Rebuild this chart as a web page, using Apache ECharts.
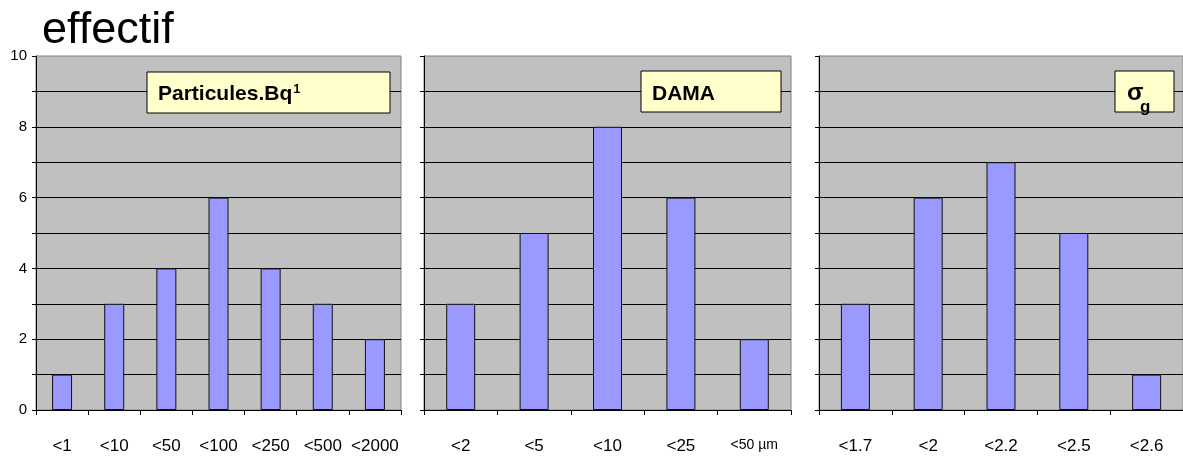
<!DOCTYPE html>
<html><head><meta charset="utf-8">
<script src="https://cdn.jsdelivr.net/npm/echarts@6/dist/echarts.min.js"></script>
<style>html,body{margin:0;padding:0;background:#fff}#c{width:1183px;height:457px}</style>
</head><body><div id="c"></div>
<script>
// ---- data ----
const cat1 = ['<1', '<10', '<50', '<100', '<250', '<500', '<2000'];
const val1 = [1, 3, 4, 6, 4, 3, 2];
const cat2 = ['<2', '<5', '<10', '<25', '<50 µm'];
const val2 = [3, 5, 8, 6, 2];
const cat3 = ['<1.7', '<2', '<2.2', '<2.5', '<2.6'];
const val3 = [3, 6, 7, 5, 1];
const yLabelTicks = [0, 2, 4, 6, 8, 10];
const titleText = 'effectif';
const box1Text = 'Particules.Bq';
const box1Sup = '1';
const box2Text = 'DAMA';
const box3Text = 'σ';
const box3Sub = 'g';

const FONT = 'Liberation Sans, Arial, Helvetica, sans-serif';
const chart = echarts.init(document.getElementById('c'), null, {renderer: 'canvas'});

const grids = [
  {left: 36, top: 56, width: 365, height: 354},
  {left: 424, top: 56, width: 367, height: 354},
  {left: 819, top: 56, width: 366, height: 354}
];

function xAxis(i, cats) {
  return {
    type: 'category', gridIndex: i, boundaryGap: true,
    data: cats.map(c => c.indexOf('µm') >= 0 ? {value: c, textStyle: {fontSize: 14}} : c),
    axisLine: {lineStyle: {color: '#000', width: 1}},
    axisTick: {show: true, length: 5, lineStyle: {color: '#000'}},
    axisLabel: {color: '#000', fontSize: 17, fontFamily: FONT, margin: 28, interval: 0},
    splitLine: {show: false}
  };
}
function yAxis(i, showLabels) {
  return {
    type: 'value', gridIndex: i, min: 0, max: 10, interval: 1,
    axisLine: {show: true, lineStyle: {color: '#000', width: 1}},
    axisTick: {show: true, length: 4, lineStyle: {color: '#000'}},
    axisLabel: {
      show: showLabels, color: '#000', fontSize: 15, fontFamily: FONT, margin: 9,
      formatter: v => yLabelTicks.indexOf(v) >= 0 ? String(v) : ''
    },
    splitLine: {show: true, showMaxLine: false, lineStyle: {color: '#000', width: 1}}
  };
}
function barSeries(i, vals, w) {
  return {
    type: 'bar', xAxisIndex: i, yAxisIndex: i, data: vals, barWidth: w,
    itemStyle: {color: '#9999FF', borderColor: '#111', borderWidth: 1},
    animation: false
  };
}

const option = {
  animation: false,
  textStyle: {fontFamily: FONT},
  grid: grids.map(g => Object.assign({show: true, backgroundColor: '#C0C0C0', borderColor: '#808080', borderWidth: 1}, g)),
  xAxis: [xAxis(0, cat1), xAxis(1, cat2), xAxis(2, cat3)],
  yAxis: [yAxis(0, true), yAxis(1, false), yAxis(2, false)],
  series: [barSeries(0, val1, 20), barSeries(1, val2, 29), barSeries(2, val3, 29)],
  graphic: [
    {type: 'text', left: 42, top: 8, z: 10,
     style: {text: titleText, font: '45px ' + FONT, fill: '#000'}},
    // box 1
    {type: 'rect', shape: {x: 147, y: 72, width: 243, height: 41}, z: 10,
     style: {fill: '#FFFFCC', stroke: '#000', lineWidth: 1}},
    {type: 'text', x: 158, y: 94, z: 11,
     style: {text: '{a|' + box1Text + '}{s|' + box1Sup + '}', verticalAlign: 'middle', fill: '#000',
       rich: {a: {fontSize: 21, fontWeight: 'bold', fontFamily: FONT, lineHeight: 22},
              s: {fontSize: 13, fontWeight: 'bold', fontFamily: FONT, verticalAlign: 'top', lineHeight: 13, padding: [0,0,9,1]}}}},
    // box 2
    {type: 'rect', shape: {x: 641, y: 71, width: 140, height: 41}, z: 10,
     style: {fill: '#FFFFCC', stroke: '#000', lineWidth: 1}},
    {type: 'text', x: 652, y: 94, z: 11,
     style: {text: box2Text, fontSize: 21, fontWeight: 'bold', fontFamily: FONT, verticalAlign: 'middle', fill: '#000'}},
    // box 3
    {type: 'rect', shape: {x: 1115, y: 71, width: 59, height: 41}, z: 10,
     style: {fill: '#FFFFCC', stroke: '#000', lineWidth: 1}},
    {type: 'text', x: 1127, y: 93, z: 11,
     style: {text: box3Text, fontSize: 24, fontWeight: 'bold', fontFamily: FONT, verticalAlign: 'middle', fill: '#000'}},
    {type: 'text', x: 1140, y: 107, z: 11,
     style: {text: box3Sub, fontSize: 17, fontWeight: 'bold', fontFamily: FONT, verticalAlign: 'middle', fill: '#000'}}
  ]
};
chart.setOption(option);
</script></body></html>
